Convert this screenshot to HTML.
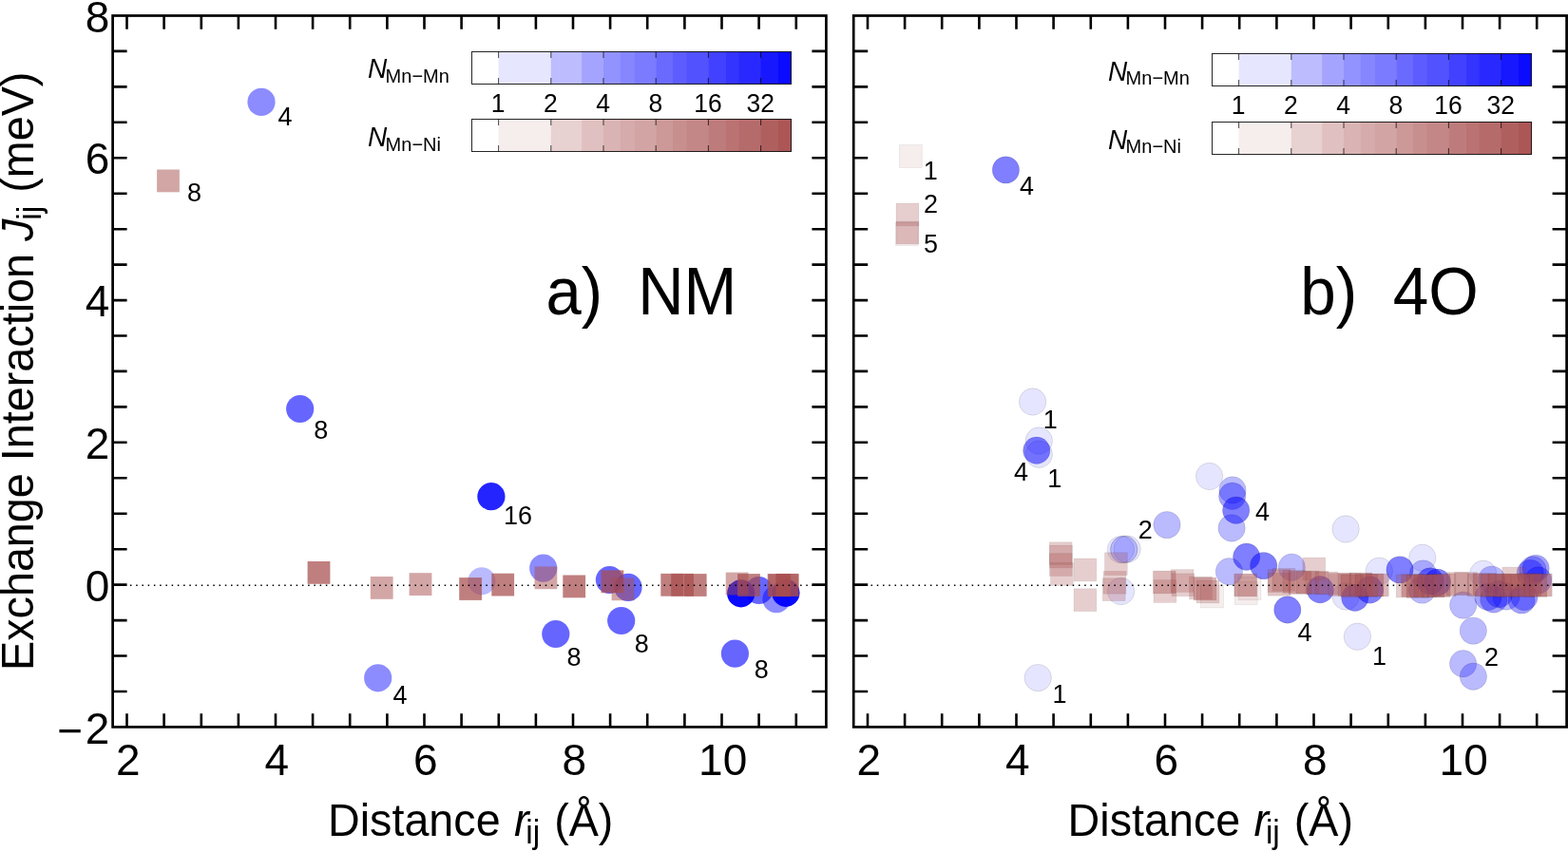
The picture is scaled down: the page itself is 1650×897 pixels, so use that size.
<!DOCTYPE html>
<html lang="en">
<head>
<meta charset="utf-8">
<title>Exchange Interaction vs Distance</title>
<style>html,body{margin:0;padding:0;background:#fff;}svg{display:block;}</style>
</head>
<body>
<svg width="1650" height="897" viewBox="0 0 1650 897" font-family='"Liberation Sans", Arial, Helvetica, sans-serif' fill="#000">
<rect width="1650" height="897" fill="#fff"/>
<g>
<circle cx="275.0" cy="107.4" r="14.6" fill="rgb(0, 0, 255)" fill-opacity="0.45"/>
<circle cx="315.7" cy="430.5" r="14.6" fill="rgb(0, 0, 255)" fill-opacity="0.60"/>
<circle cx="516.9" cy="522.7" r="14.6" fill="rgb(0, 0, 255)" fill-opacity="0.86"/>
<circle cx="397.7" cy="713.8" r="14.6" fill="rgb(0, 0, 255)" fill-opacity="0.45"/>
<circle cx="506.9" cy="611.8" r="14.6" fill="rgb(0, 0, 255)" fill-opacity="0.27"/>
<circle cx="571.7" cy="598.1" r="14.6" fill="rgb(0, 0, 255)" fill-opacity="0.45"/>
<circle cx="584.8" cy="667.5" r="14.6" fill="rgb(0, 0, 255)" fill-opacity="0.60"/>
<circle cx="641.4" cy="610.5" r="14.6" fill="rgb(0, 0, 255)" fill-opacity="0.60"/>
<circle cx="661.0" cy="618.4" r="14.6" fill="rgb(0, 0, 255)" fill-opacity="0.60"/>
<circle cx="653.7" cy="653.5" r="14.6" fill="rgb(0, 0, 255)" fill-opacity="0.60"/>
<circle cx="773.4" cy="688.1" r="14.6" fill="rgb(0, 0, 255)" fill-opacity="0.60"/>
<circle cx="779.7" cy="624.8" r="14.6" fill="rgb(0, 0, 255)" fill-opacity="0.96"/>
<circle cx="798.6" cy="621.5" r="14.6" fill="rgb(0, 0, 255)" fill-opacity="0.60"/>
<circle cx="817.0" cy="630.7" r="14.6" fill="rgb(0, 0, 255)" fill-opacity="0.45"/>
<circle cx="826.9" cy="624.3" r="14.6" fill="rgb(0, 0, 255)" fill-opacity="0.96"/>
<rect x="165.1" y="178.5" width="23.8" height="23.8" fill="rgb(168, 78, 78)" fill-opacity="0.50"/>
<rect x="323.6" y="591.0" width="23.8" height="23.8" fill="rgb(168, 78, 78)" fill-opacity="0.72"/>
<rect x="389.8" y="607.0" width="23.8" height="23.8" fill="rgb(168, 78, 78)" fill-opacity="0.50"/>
<rect x="430.6" y="603.2" width="23.8" height="23.8" fill="rgb(168, 78, 78)" fill-opacity="0.50"/>
<rect x="483.2" y="608.1" width="23.8" height="23.8" fill="rgb(168, 78, 78)" fill-opacity="0.72"/>
<rect x="517.3" y="603.7" width="23.8" height="23.8" fill="rgb(168, 78, 78)" fill-opacity="0.72"/>
<rect x="562.5" y="596.4" width="23.8" height="23.8" fill="rgb(168, 78, 78)" fill-opacity="0.50"/>
<rect x="592.3" y="605.5" width="23.8" height="23.8" fill="rgb(168, 78, 78)" fill-opacity="0.72"/>
<rect x="632.5" y="600.4" width="23.8" height="23.8" fill="rgb(168, 78, 78)" fill-opacity="0.72"/>
<rect x="643.6" y="608.4" width="23.8" height="23.8" fill="rgb(168, 78, 78)" fill-opacity="0.50"/>
<rect x="695.3" y="603.9" width="23.8" height="23.8" fill="rgb(168, 78, 78)" fill-opacity="0.72"/>
<rect x="706.2" y="603.9" width="23.8" height="23.8" fill="rgb(168, 78, 78)" fill-opacity="0.72"/>
<rect x="719.8" y="604.1" width="23.8" height="23.8" fill="rgb(168, 78, 78)" fill-opacity="0.72"/>
<rect x="763.7" y="602.6" width="23.8" height="23.8" fill="rgb(168, 78, 78)" fill-opacity="0.50"/>
<rect x="776.1" y="604.1" width="23.8" height="23.8" fill="rgb(168, 78, 78)" fill-opacity="0.72"/>
<rect x="807.7" y="604.1" width="23.8" height="23.8" fill="rgb(168, 78, 78)" fill-opacity="0.72"/>
<rect x="816.9" y="604.1" width="23.8" height="23.8" fill="rgb(168, 78, 78)" fill-opacity="0.72"/>
<rect x="808.6" y="604.4" width="23.8" height="23.8" fill="rgb(168, 78, 78)" fill-opacity="0.50"/>
<rect x="816.1" y="603.9" width="23.8" height="23.8" fill="rgb(168, 78, 78)" fill-opacity="0.50"/>
<circle cx="1058.4" cy="178.9" r="14.2" fill="rgb(0, 0, 255)" fill-opacity="0.50" stroke="#000" stroke-opacity="0.14" stroke-width="0.8"/>
<circle cx="1086.6" cy="423.0" r="14.2" fill="rgb(0, 0, 255)" fill-opacity="0.10" stroke="#000" stroke-opacity="0.14" stroke-width="0.8"/>
<circle cx="1093.3" cy="464.0" r="14.2" fill="rgb(0, 0, 255)" fill-opacity="0.10" stroke="#000" stroke-opacity="0.14" stroke-width="0.8"/>
<circle cx="1093.3" cy="478.3" r="14.2" fill="rgb(0, 0, 255)" fill-opacity="0.10" stroke="#000" stroke-opacity="0.14" stroke-width="0.8"/>
<circle cx="1090.8" cy="474.2" r="14.2" fill="rgb(0, 0, 255)" fill-opacity="0.50" stroke="#000" stroke-opacity="0.14" stroke-width="0.8"/>
<circle cx="1092.2" cy="713.6" r="14.2" fill="rgb(0, 0, 255)" fill-opacity="0.10" stroke="#000" stroke-opacity="0.14" stroke-width="0.8"/>
<circle cx="1272.6" cy="501.5" r="14.2" fill="rgb(0, 0, 255)" fill-opacity="0.10" stroke="#000" stroke-opacity="0.14" stroke-width="0.8"/>
<circle cx="1297.0" cy="516.0" r="14.2" fill="rgb(0, 0, 255)" fill-opacity="0.27" stroke="#000" stroke-opacity="0.14" stroke-width="0.8"/>
<circle cx="1296.7" cy="522.3" r="14.2" fill="rgb(0, 0, 255)" fill-opacity="0.36" stroke="#000" stroke-opacity="0.14" stroke-width="0.8"/>
<circle cx="1300.7" cy="537.3" r="14.2" fill="rgb(0, 0, 255)" fill-opacity="0.50" stroke="#000" stroke-opacity="0.14" stroke-width="0.8"/>
<circle cx="1296.1" cy="556.0" r="14.2" fill="rgb(0, 0, 255)" fill-opacity="0.27" stroke="#000" stroke-opacity="0.14" stroke-width="0.8"/>
<circle cx="1228.0" cy="552.6" r="14.2" fill="rgb(0, 0, 255)" fill-opacity="0.27" stroke="#000" stroke-opacity="0.14" stroke-width="0.8"/>
<circle cx="1179.4" cy="578.6" r="14.2" fill="rgb(0, 0, 255)" fill-opacity="0.10" stroke="#000" stroke-opacity="0.14" stroke-width="0.8"/>
<circle cx="1186.1" cy="578.1" r="14.2" fill="rgb(0, 0, 255)" fill-opacity="0.10" stroke="#000" stroke-opacity="0.14" stroke-width="0.8"/>
<circle cx="1183.0" cy="578.3" r="14.2" fill="rgb(0, 0, 255)" fill-opacity="0.10" stroke="#000" stroke-opacity="0.14" stroke-width="0.8"/>
<circle cx="1182.5" cy="578.8" r="14.2" fill="rgb(0, 0, 255)" fill-opacity="0.10" stroke="#000" stroke-opacity="0.14" stroke-width="0.8"/>
<circle cx="1179.6" cy="622.5" r="14.2" fill="rgb(0, 0, 255)" fill-opacity="0.10" stroke="#000" stroke-opacity="0.14" stroke-width="0.8"/>
<circle cx="1311.7" cy="586.3" r="14.2" fill="rgb(0, 0, 255)" fill-opacity="0.50" stroke="#000" stroke-opacity="0.14" stroke-width="0.8"/>
<circle cx="1329.7" cy="595.6" r="14.2" fill="rgb(0, 0, 255)" fill-opacity="0.50" stroke="#000" stroke-opacity="0.14" stroke-width="0.8"/>
<circle cx="1293.4" cy="601.7" r="14.2" fill="rgb(0, 0, 255)" fill-opacity="0.27" stroke="#000" stroke-opacity="0.14" stroke-width="0.8"/>
<circle cx="1359.3" cy="597.2" r="14.2" fill="rgb(0, 0, 255)" fill-opacity="0.27" stroke="#000" stroke-opacity="0.14" stroke-width="0.8"/>
<circle cx="1354.8" cy="642.0" r="14.2" fill="rgb(0, 0, 255)" fill-opacity="0.50" stroke="#000" stroke-opacity="0.14" stroke-width="0.8"/>
<circle cx="1416.1" cy="557.0" r="14.2" fill="rgb(0, 0, 255)" fill-opacity="0.10" stroke="#000" stroke-opacity="0.14" stroke-width="0.8"/>
<circle cx="1389.2" cy="620.7" r="14.2" fill="rgb(0, 0, 255)" fill-opacity="0.50" stroke="#000" stroke-opacity="0.14" stroke-width="0.8"/>
<circle cx="1416.2" cy="628.0" r="14.2" fill="rgb(0, 0, 255)" fill-opacity="0.10" stroke="#000" stroke-opacity="0.14" stroke-width="0.8"/>
<circle cx="1425.8" cy="629.3" r="14.2" fill="rgb(0, 0, 255)" fill-opacity="0.50" stroke="#000" stroke-opacity="0.14" stroke-width="0.8"/>
<circle cx="1441.5" cy="621.0" r="14.2" fill="rgb(0, 0, 255)" fill-opacity="0.50" stroke="#000" stroke-opacity="0.14" stroke-width="0.8"/>
<circle cx="1451.3" cy="601.2" r="14.2" fill="rgb(0, 0, 255)" fill-opacity="0.10" stroke="#000" stroke-opacity="0.14" stroke-width="0.8"/>
<circle cx="1473.0" cy="599.9" r="14.2" fill="rgb(0, 0, 255)" fill-opacity="0.50" stroke="#000" stroke-opacity="0.14" stroke-width="0.8"/>
<circle cx="1496.8" cy="587.3" r="14.2" fill="rgb(0, 0, 255)" fill-opacity="0.10" stroke="#000" stroke-opacity="0.14" stroke-width="0.8"/>
<circle cx="1497.5" cy="604.0" r="14.2" fill="rgb(0, 0, 255)" fill-opacity="0.27" stroke="#000" stroke-opacity="0.14" stroke-width="0.8"/>
<circle cx="1512.4" cy="613.3" r="14.2" fill="rgb(0, 0, 255)" fill-opacity="0.50" stroke="#000" stroke-opacity="0.14" stroke-width="0.8"/>
<circle cx="1505.0" cy="612.0" r="14.2" fill="rgb(0, 0, 255)" fill-opacity="0.50" stroke="#000" stroke-opacity="0.14" stroke-width="0.8"/>
<circle cx="1496.4" cy="621.1" r="14.2" fill="rgb(0, 0, 255)" fill-opacity="0.27" stroke="#000" stroke-opacity="0.14" stroke-width="0.8"/>
<circle cx="1428.4" cy="670.3" r="14.2" fill="rgb(0, 0, 255)" fill-opacity="0.10" stroke="#000" stroke-opacity="0.14" stroke-width="0.8"/>
<circle cx="1539.7" cy="637.1" r="14.2" fill="rgb(0, 0, 255)" fill-opacity="0.27" stroke="#000" stroke-opacity="0.14" stroke-width="0.8"/>
<circle cx="1550.3" cy="664.1" r="14.2" fill="rgb(0, 0, 255)" fill-opacity="0.27" stroke="#000" stroke-opacity="0.14" stroke-width="0.8"/>
<circle cx="1539.6" cy="698.7" r="14.2" fill="rgb(0, 0, 255)" fill-opacity="0.27" stroke="#000" stroke-opacity="0.14" stroke-width="0.8"/>
<circle cx="1550.4" cy="712.2" r="14.2" fill="rgb(0, 0, 255)" fill-opacity="0.27" stroke="#000" stroke-opacity="0.14" stroke-width="0.8"/>
<circle cx="1560.8" cy="604.3" r="14.2" fill="rgb(0, 0, 255)" fill-opacity="0.10" stroke="#000" stroke-opacity="0.14" stroke-width="0.8"/>
<circle cx="1569.7" cy="610.1" r="14.2" fill="rgb(0, 0, 255)" fill-opacity="0.27" stroke="#000" stroke-opacity="0.14" stroke-width="0.8"/>
<circle cx="1566.0" cy="628.5" r="14.2" fill="rgb(0, 0, 255)" fill-opacity="0.36" stroke="#000" stroke-opacity="0.14" stroke-width="0.8"/>
<circle cx="1571.8" cy="631.0" r="14.2" fill="rgb(0, 0, 255)" fill-opacity="0.36" stroke="#000" stroke-opacity="0.14" stroke-width="0.8"/>
<circle cx="1577.5" cy="625.5" r="14.2" fill="rgb(0, 0, 255)" fill-opacity="0.36" stroke="#000" stroke-opacity="0.14" stroke-width="0.8"/>
<circle cx="1585.0" cy="628.0" r="14.2" fill="rgb(0, 0, 255)" fill-opacity="0.27" stroke="#000" stroke-opacity="0.14" stroke-width="0.8"/>
<circle cx="1601.1" cy="631.9" r="14.2" fill="rgb(0, 0, 255)" fill-opacity="0.36" stroke="#000" stroke-opacity="0.14" stroke-width="0.8"/>
<circle cx="1604.0" cy="628.5" r="14.2" fill="rgb(0, 0, 255)" fill-opacity="0.36" stroke="#000" stroke-opacity="0.14" stroke-width="0.8"/>
<circle cx="1616.1" cy="598.4" r="14.2" fill="rgb(0, 0, 255)" fill-opacity="0.36" stroke="#000" stroke-opacity="0.14" stroke-width="0.8"/>
<circle cx="1610.3" cy="603.4" r="14.2" fill="rgb(0, 0, 255)" fill-opacity="0.36" stroke="#000" stroke-opacity="0.14" stroke-width="0.8"/>
<circle cx="1618.6" cy="611.0" r="14.2" fill="rgb(0, 0, 255)" fill-opacity="0.36" stroke="#000" stroke-opacity="0.14" stroke-width="0.8"/>
<circle cx="1613.0" cy="600.0" r="14.2" fill="rgb(0, 0, 255)" fill-opacity="0.27" stroke="#000" stroke-opacity="0.14" stroke-width="0.8"/>
<rect x="946.5" y="152.6" width="23.8" height="23.8" fill="rgb(168, 78, 78)" fill-opacity="0.10" stroke="#000" stroke-opacity="0.08" stroke-width="0.8"/>
<rect x="943.0" y="214.0" width="23.8" height="23.8" fill="rgb(168, 78, 78)" fill-opacity="0.28" stroke="#000" stroke-opacity="0.08" stroke-width="0.8"/>
<rect x="943.0" y="233.1" width="23.8" height="23.8" fill="rgb(168, 78, 78)" fill-opacity="0.33" stroke="#000" stroke-opacity="0.08" stroke-width="0.8"/>
<rect x="942.3" y="234.6" width="23.8" height="23.8" fill="rgb(168, 78, 78)" fill-opacity="0.10" stroke="#000" stroke-opacity="0.08" stroke-width="0.8"/>
<rect x="1104.3" y="570.8" width="23.8" height="23.8" fill="rgb(168, 78, 78)" fill-opacity="0.28" stroke="#000" stroke-opacity="0.08" stroke-width="0.8"/>
<rect x="1104.6" y="574.1" width="23.8" height="23.8" fill="rgb(168, 78, 78)" fill-opacity="0.28" stroke="#000" stroke-opacity="0.08" stroke-width="0.8"/>
<rect x="1104.3" y="582.7" width="23.8" height="23.8" fill="rgb(168, 78, 78)" fill-opacity="0.28" stroke="#000" stroke-opacity="0.08" stroke-width="0.8"/>
<rect x="1105.5" y="592.6" width="23.8" height="23.8" fill="rgb(168, 78, 78)" fill-opacity="0.28" stroke="#000" stroke-opacity="0.08" stroke-width="0.8"/>
<rect x="1130.0" y="588.0" width="23.8" height="23.8" fill="rgb(168, 78, 78)" fill-opacity="0.28" stroke="#000" stroke-opacity="0.08" stroke-width="0.8"/>
<rect x="1130.0" y="619.8" width="23.8" height="23.8" fill="rgb(168, 78, 78)" fill-opacity="0.28" stroke="#000" stroke-opacity="0.08" stroke-width="0.8"/>
<rect x="1162.5" y="581.8" width="23.8" height="23.8" fill="rgb(168, 78, 78)" fill-opacity="0.28" stroke="#000" stroke-opacity="0.08" stroke-width="0.8"/>
<rect x="1161.1" y="601.4" width="23.8" height="23.8" fill="rgb(168, 78, 78)" fill-opacity="0.28" stroke="#000" stroke-opacity="0.08" stroke-width="0.8"/>
<rect x="1160.3" y="608.8" width="23.8" height="23.8" fill="rgb(168, 78, 78)" fill-opacity="0.28" stroke="#000" stroke-opacity="0.08" stroke-width="0.8"/>
<rect x="1214.0" y="610.6" width="23.8" height="23.8" fill="rgb(168, 78, 78)" fill-opacity="0.28" stroke="#000" stroke-opacity="0.08" stroke-width="0.8"/>
<rect x="1213.4" y="601.1" width="23.8" height="23.8" fill="rgb(168, 78, 78)" fill-opacity="0.40" stroke="#000" stroke-opacity="0.08" stroke-width="0.8"/>
<rect x="1232.2" y="599.6" width="23.8" height="23.8" fill="rgb(168, 78, 78)" fill-opacity="0.28" stroke="#000" stroke-opacity="0.08" stroke-width="0.8"/>
<rect x="1233.0" y="603.9" width="23.8" height="23.8" fill="rgb(168, 78, 78)" fill-opacity="0.28" stroke="#000" stroke-opacity="0.08" stroke-width="0.8"/>
<rect x="1251.6" y="607.1" width="23.8" height="23.8" fill="rgb(168, 78, 78)" fill-opacity="0.28" stroke="#000" stroke-opacity="0.08" stroke-width="0.8"/>
<rect x="1256.1" y="608.1" width="23.8" height="23.8" fill="rgb(168, 78, 78)" fill-opacity="0.40" stroke="#000" stroke-opacity="0.08" stroke-width="0.8"/>
<rect x="1259.1" y="611.1" width="23.8" height="23.8" fill="rgb(168, 78, 78)" fill-opacity="0.28" stroke="#000" stroke-opacity="0.08" stroke-width="0.8"/>
<rect x="1263.6" y="616.1" width="23.8" height="23.8" fill="rgb(168, 78, 78)" fill-opacity="0.10" stroke="#000" stroke-opacity="0.08" stroke-width="0.8"/>
<rect x="1298.8" y="604.1" width="23.8" height="23.8" fill="rgb(168, 78, 78)" fill-opacity="0.50" stroke="#000" stroke-opacity="0.08" stroke-width="0.8"/>
<rect x="1299.4" y="612.7" width="23.8" height="23.8" fill="rgb(168, 78, 78)" fill-opacity="0.10" stroke="#000" stroke-opacity="0.08" stroke-width="0.8"/>
<rect x="1303.1" y="607.8" width="23.8" height="23.8" fill="rgb(168, 78, 78)" fill-opacity="0.10" stroke="#000" stroke-opacity="0.08" stroke-width="0.8"/>
<rect x="1334.2" y="599.7" width="23.8" height="23.8" fill="rgb(168, 78, 78)" fill-opacity="0.33" stroke="#000" stroke-opacity="0.08" stroke-width="0.8"/>
<rect x="1334.2" y="603.4" width="23.8" height="23.8" fill="rgb(168, 78, 78)" fill-opacity="0.33" stroke="#000" stroke-opacity="0.08" stroke-width="0.8"/>
<rect x="1339.1" y="598.4" width="23.8" height="23.8" fill="rgb(168, 78, 78)" fill-opacity="0.28" stroke="#000" stroke-opacity="0.08" stroke-width="0.8"/>
<rect x="1370.9" y="587.1" width="23.8" height="23.8" fill="rgb(168, 78, 78)" fill-opacity="0.28" stroke="#000" stroke-opacity="0.08" stroke-width="0.8"/>
<rect x="1350.1" y="600.6" width="23.8" height="23.8" fill="rgb(168, 78, 78)" fill-opacity="0.28" stroke="#000" stroke-opacity="0.08" stroke-width="0.8"/>
<rect x="1356.1" y="601.6" width="23.8" height="23.8" fill="rgb(168, 78, 78)" fill-opacity="0.40" stroke="#000" stroke-opacity="0.08" stroke-width="0.8"/>
<rect x="1364.1" y="601.1" width="23.8" height="23.8" fill="rgb(168, 78, 78)" fill-opacity="0.28" stroke="#000" stroke-opacity="0.08" stroke-width="0.8"/>
<rect x="1374.1" y="601.6" width="23.8" height="23.8" fill="rgb(168, 78, 78)" fill-opacity="0.40" stroke="#000" stroke-opacity="0.08" stroke-width="0.8"/>
<rect x="1384.1" y="602.1" width="23.8" height="23.8" fill="rgb(168, 78, 78)" fill-opacity="0.28" stroke="#000" stroke-opacity="0.08" stroke-width="0.8"/>
<rect x="1398.1" y="603.6" width="23.8" height="23.8" fill="rgb(168, 78, 78)" fill-opacity="0.40" stroke="#000" stroke-opacity="0.08" stroke-width="0.8"/>
<rect x="1408.1" y="603.6" width="23.8" height="23.8" fill="rgb(168, 78, 78)" fill-opacity="0.46" stroke="#000" stroke-opacity="0.08" stroke-width="0.8"/>
<rect x="1411.1" y="605.1" width="23.8" height="23.8" fill="rgb(168, 78, 78)" fill-opacity="0.40" stroke="#000" stroke-opacity="0.08" stroke-width="0.8"/>
<rect x="1420.1" y="603.1" width="23.8" height="23.8" fill="rgb(168, 78, 78)" fill-opacity="0.46" stroke="#000" stroke-opacity="0.08" stroke-width="0.8"/>
<rect x="1426.1" y="604.6" width="23.8" height="23.8" fill="rgb(168, 78, 78)" fill-opacity="0.40" stroke="#000" stroke-opacity="0.08" stroke-width="0.8"/>
<rect x="1432.1" y="604.1" width="23.8" height="23.8" fill="rgb(168, 78, 78)" fill-opacity="0.46" stroke="#000" stroke-opacity="0.08" stroke-width="0.8"/>
<rect x="1437.5" y="604.1" width="23.8" height="23.8" fill="rgb(168, 78, 78)" fill-opacity="0.40" stroke="#000" stroke-opacity="0.08" stroke-width="0.8"/>
<rect x="1469.2" y="605.1" width="23.8" height="23.8" fill="rgb(168, 78, 78)" fill-opacity="0.28" stroke="#000" stroke-opacity="0.08" stroke-width="0.8"/>
<rect x="1474.8" y="604.6" width="23.8" height="23.8" fill="rgb(168, 78, 78)" fill-opacity="0.46" stroke="#000" stroke-opacity="0.08" stroke-width="0.8"/>
<rect x="1480.1" y="605.6" width="23.8" height="23.8" fill="rgb(168, 78, 78)" fill-opacity="0.46" stroke="#000" stroke-opacity="0.08" stroke-width="0.8"/>
<rect x="1488.1" y="604.6" width="23.8" height="23.8" fill="rgb(168, 78, 78)" fill-opacity="0.46" stroke="#000" stroke-opacity="0.08" stroke-width="0.8"/>
<rect x="1496.1" y="605.1" width="23.8" height="23.8" fill="rgb(168, 78, 78)" fill-opacity="0.46" stroke="#000" stroke-opacity="0.08" stroke-width="0.8"/>
<rect x="1502.3" y="604.6" width="23.8" height="23.8" fill="rgb(168, 78, 78)" fill-opacity="0.46" stroke="#000" stroke-opacity="0.08" stroke-width="0.8"/>
<rect x="1508.1" y="604.1" width="23.8" height="23.8" fill="rgb(168, 78, 78)" fill-opacity="0.28" stroke="#000" stroke-opacity="0.08" stroke-width="0.8"/>
<rect x="1522.1" y="602.6" width="23.8" height="23.8" fill="rgb(168, 78, 78)" fill-opacity="0.33" stroke="#000" stroke-opacity="0.08" stroke-width="0.8"/>
<rect x="1530.6" y="602.6" width="23.8" height="23.8" fill="rgb(168, 78, 78)" fill-opacity="0.33" stroke="#000" stroke-opacity="0.08" stroke-width="0.8"/>
<rect x="1544.1" y="604.1" width="23.8" height="23.8" fill="rgb(168, 78, 78)" fill-opacity="0.33" stroke="#000" stroke-opacity="0.08" stroke-width="0.8"/>
<rect x="1550.1" y="603.6" width="23.8" height="23.8" fill="rgb(168, 78, 78)" fill-opacity="0.46" stroke="#000" stroke-opacity="0.08" stroke-width="0.8"/>
<rect x="1558.1" y="604.6" width="23.8" height="23.8" fill="rgb(168, 78, 78)" fill-opacity="0.46" stroke="#000" stroke-opacity="0.08" stroke-width="0.8"/>
<rect x="1566.1" y="604.1" width="23.8" height="23.8" fill="rgb(168, 78, 78)" fill-opacity="0.46" stroke="#000" stroke-opacity="0.08" stroke-width="0.8"/>
<rect x="1574.1" y="604.6" width="23.8" height="23.8" fill="rgb(168, 78, 78)" fill-opacity="0.46" stroke="#000" stroke-opacity="0.08" stroke-width="0.8"/>
<rect x="1580.8" y="597.1" width="23.8" height="23.8" fill="rgb(168, 78, 78)" fill-opacity="0.28" stroke="#000" stroke-opacity="0.08" stroke-width="0.8"/>
<rect x="1582.1" y="604.1" width="23.8" height="23.8" fill="rgb(168, 78, 78)" fill-opacity="0.46" stroke="#000" stroke-opacity="0.08" stroke-width="0.8"/>
<rect x="1590.1" y="604.6" width="23.8" height="23.8" fill="rgb(168, 78, 78)" fill-opacity="0.46" stroke="#000" stroke-opacity="0.08" stroke-width="0.8"/>
<rect x="1598.1" y="603.6" width="23.8" height="23.8" fill="rgb(168, 78, 78)" fill-opacity="0.46" stroke="#000" stroke-opacity="0.08" stroke-width="0.8"/>
<rect x="1604.1" y="604.6" width="23.8" height="23.8" fill="rgb(168, 78, 78)" fill-opacity="0.46" stroke="#000" stroke-opacity="0.08" stroke-width="0.8"/>
<rect x="1609.4" y="604.1" width="23.8" height="23.8" fill="rgb(168, 78, 78)" fill-opacity="0.46" stroke="#000" stroke-opacity="0.08" stroke-width="0.8"/>
<line x1="136.95" y1="616.2" x2="855.4" y2="616.2" stroke="#000" stroke-width="1.5" stroke-dasharray="1.5 4.74"/>
<line x1="916.55" y1="616.2" x2="1634.6" y2="616.2" stroke="#000" stroke-width="1.5" stroke-dasharray="1.5 4.74"/>
<text transform="translate(292.4,132.3) scale(1,1.04)" font-size="27">4</text>
<text transform="translate(197.0,212.3) scale(1,1.04)" font-size="27">8</text>
<text transform="translate(330.3,462.2) scale(1,1.04)" font-size="27">8</text>
<text transform="translate(530.0,552.4) scale(1,1.04)" font-size="27">16</text>
<text transform="translate(413.5,741.0) scale(1,1.04)" font-size="27">4</text>
<text transform="translate(596.6,701.1) scale(1,1.04)" font-size="27">8</text>
<text transform="translate(667.8,686.8) scale(1,1.04)" font-size="27">8</text>
<text transform="translate(793.8,714.4) scale(1,1.04)" font-size="27">8</text>
<text transform="translate(971.8,188.5) scale(1,1.04)" font-size="27">1</text>
<text transform="translate(972.0,224.2) scale(1,1.04)" font-size="27">2</text>
<text transform="translate(972.0,265.7) scale(1,1.04)" font-size="27">5</text>
<text transform="translate(1072.9,205.0) scale(1,1.04)" font-size="27">4</text>
<text transform="translate(1097.8,451.1) scale(1,1.04)" font-size="27">1</text>
<text transform="translate(1066.9,506.2) scale(1,1.04)" font-size="27">4</text>
<text transform="translate(1102.3,513.0) scale(1,1.04)" font-size="27">1</text>
<text transform="translate(1107.5,740.2) scale(1,1.04)" font-size="27">1</text>
<text transform="translate(1197.8,567.4) scale(1,1.04)" font-size="27">2</text>
<text transform="translate(1321.1,548.4) scale(1,1.04)" font-size="27">4</text>
<text transform="translate(1365.5,674.5) scale(1,1.04)" font-size="27">4</text>
<text transform="translate(1443.9,699.5) scale(1,1.04)" font-size="27">1</text>
<text transform="translate(1562.1,700.5) scale(1,1.04)" font-size="27">2</text>
</g>
<rect x="496.5" y="54.5" width="336" height="34" fill="#fff"/>
<rect x="524.6" y="54.5" width="55.7" height="34" fill="rgb(230,230,255)"/>
<rect x="579.8" y="54.5" width="32.8" height="34" fill="rgb(188,188,255)"/>
<rect x="612.1" y="54.5" width="23.4" height="34" fill="rgb(164,164,255)"/>
<rect x="635.0" y="54.5" width="18.3" height="34" fill="rgb(147,147,255)"/>
<rect x="652.8" y="54.5" width="15.0" height="34" fill="rgb(134,134,255)"/>
<rect x="667.3" y="54.5" width="23.4" height="34" fill="rgb(123,123,255)"/>
<rect x="690.2" y="54.5" width="18.3" height="34" fill="rgb(106,106,255)"/>
<rect x="708.0" y="54.5" width="15.0" height="34" fill="rgb(93,93,255)"/>
<rect x="722.5" y="54.5" width="23.4" height="34" fill="rgb(82,82,255)"/>
<rect x="745.4" y="54.5" width="18.3" height="34" fill="rgb(65,65,255)"/>
<rect x="763.2" y="54.5" width="15.0" height="34" fill="rgb(52,52,255)"/>
<rect x="777.7" y="54.5" width="23.4" height="34" fill="rgb(41,41,255)"/>
<rect x="800.6" y="54.5" width="18.3" height="34" fill="rgb(24,24,255)"/>
<rect x="818.4" y="54.5" width="14.1" height="34" fill="rgb(11,11,255)"/>
<path d="M524.6 54.5v6.5M524.6 88.5v-6.5M579.8 54.5v6.5M579.8 88.5v-6.5M635.0 54.5v6.5M635.0 88.5v-6.5M690.2 54.5v6.5M690.2 88.5v-6.5M745.4 54.5v6.5M745.4 88.5v-6.5M800.6 54.5v6.5M800.6 88.5v-6.5" stroke="#000" stroke-opacity="0.8" stroke-width="0.9" fill="none"/>
<rect x="496.5" y="54.5" width="336" height="34" fill="none" stroke="#000" stroke-opacity="0.85" stroke-width="1"/>
<rect x="496.5" y="125.5" width="336" height="34" fill="#fff"/>
<rect x="524.6" y="125.5" width="55.7" height="34" fill="rgb(246,237,237)"/>
<rect x="579.8" y="125.5" width="32.8" height="34" fill="rgb(232,209,209)"/>
<rect x="612.1" y="125.5" width="23.4" height="34" fill="rgb(224,192,192)"/>
<rect x="635.0" y="125.5" width="18.3" height="34" fill="rgb(218,180,180)"/>
<rect x="652.8" y="125.5" width="15.0" height="34" fill="rgb(214,171,171)"/>
<rect x="667.3" y="125.5" width="23.4" height="34" fill="rgb(210,164,164)"/>
<rect x="690.2" y="125.5" width="18.3" height="34" fill="rgb(204,152,152)"/>
<rect x="708.0" y="125.5" width="15.0" height="34" fill="rgb(200,143,143)"/>
<rect x="722.5" y="125.5" width="23.4" height="34" fill="rgb(196,135,135)"/>
<rect x="745.4" y="125.5" width="18.3" height="34" fill="rgb(190,123,123)"/>
<rect x="763.2" y="125.5" width="15.0" height="34" fill="rgb(186,114,114)"/>
<rect x="777.7" y="125.5" width="23.4" height="34" fill="rgb(182,107,107)"/>
<rect x="800.6" y="125.5" width="18.3" height="34" fill="rgb(176,95,95)"/>
<rect x="818.4" y="125.5" width="14.1" height="34" fill="rgb(172,86,86)"/>
<path d="M524.6 125.5v6.5M524.6 159.5v-6.5M579.8 125.5v6.5M579.8 159.5v-6.5M635.0 125.5v6.5M635.0 159.5v-6.5M690.2 125.5v6.5M690.2 159.5v-6.5M745.4 125.5v6.5M745.4 159.5v-6.5M800.6 125.5v6.5M800.6 159.5v-6.5" stroke="#000" stroke-opacity="0.8" stroke-width="0.9" fill="none"/>
<rect x="496.5" y="125.5" width="336" height="34" fill="none" stroke="#000" stroke-opacity="0.85" stroke-width="1"/>
<text transform="translate(524.2,117.9) scale(1,1.04)" font-size="26.5" text-anchor="middle">1</text>
<text transform="translate(579.4,117.9) scale(1,1.04)" font-size="26.5" text-anchor="middle">2</text>
<text transform="translate(634.6,117.9) scale(1,1.04)" font-size="26.5" text-anchor="middle">4</text>
<text transform="translate(689.8,117.9) scale(1,1.04)" font-size="26.5" text-anchor="middle">8</text>
<text transform="translate(745.0,117.9) scale(1,1.04)" font-size="26.5" text-anchor="middle">16</text>
<text transform="translate(800.2,117.9) scale(1,1.04)" font-size="26.5" text-anchor="middle">32</text>
<text transform="translate(387.1,82.0) scale(1,1.04)" font-size="28"><tspan font-style="italic">N</tspan><tspan font-size="20" dy="4.6" dx="-1.7">Mn−Mn</tspan></text>
<text transform="translate(387.1,154.0) scale(1,1.04)" font-size="28"><tspan font-style="italic">N</tspan><tspan font-size="20" dy="4.6" dx="-1.7">Mn−Ni</tspan></text>
<rect x="1275.5" y="56.5" width="336" height="34" fill="#fff"/>
<rect x="1303.6" y="56.5" width="55.7" height="34" fill="rgb(230,230,255)"/>
<rect x="1358.8" y="56.5" width="32.8" height="34" fill="rgb(188,188,255)"/>
<rect x="1391.1" y="56.5" width="23.4" height="34" fill="rgb(164,164,255)"/>
<rect x="1414.0" y="56.5" width="18.3" height="34" fill="rgb(147,147,255)"/>
<rect x="1431.8" y="56.5" width="15.0" height="34" fill="rgb(134,134,255)"/>
<rect x="1446.3" y="56.5" width="23.4" height="34" fill="rgb(123,123,255)"/>
<rect x="1469.2" y="56.5" width="18.3" height="34" fill="rgb(106,106,255)"/>
<rect x="1487.0" y="56.5" width="15.0" height="34" fill="rgb(93,93,255)"/>
<rect x="1501.5" y="56.5" width="23.4" height="34" fill="rgb(82,82,255)"/>
<rect x="1524.4" y="56.5" width="18.3" height="34" fill="rgb(65,65,255)"/>
<rect x="1542.2" y="56.5" width="15.0" height="34" fill="rgb(52,52,255)"/>
<rect x="1556.7" y="56.5" width="23.4" height="34" fill="rgb(41,41,255)"/>
<rect x="1579.6" y="56.5" width="18.3" height="34" fill="rgb(24,24,255)"/>
<rect x="1597.4" y="56.5" width="14.1" height="34" fill="rgb(11,11,255)"/>
<path d="M1303.6 56.5v6.5M1303.6 90.5v-6.5M1358.8 56.5v6.5M1358.8 90.5v-6.5M1414.0 56.5v6.5M1414.0 90.5v-6.5M1469.2 56.5v6.5M1469.2 90.5v-6.5M1524.4 56.5v6.5M1524.4 90.5v-6.5M1579.6 56.5v6.5M1579.6 90.5v-6.5" stroke="#000" stroke-opacity="0.8" stroke-width="0.9" fill="none"/>
<rect x="1275.5" y="56.5" width="336" height="34" fill="none" stroke="#000" stroke-opacity="0.85" stroke-width="1"/>
<rect x="1275.5" y="128.5" width="336" height="34" fill="#fff"/>
<rect x="1303.6" y="128.5" width="55.7" height="34" fill="rgb(246,237,237)"/>
<rect x="1358.8" y="128.5" width="32.8" height="34" fill="rgb(232,209,209)"/>
<rect x="1391.1" y="128.5" width="23.4" height="34" fill="rgb(224,192,192)"/>
<rect x="1414.0" y="128.5" width="18.3" height="34" fill="rgb(218,180,180)"/>
<rect x="1431.8" y="128.5" width="15.0" height="34" fill="rgb(214,171,171)"/>
<rect x="1446.3" y="128.5" width="23.4" height="34" fill="rgb(210,164,164)"/>
<rect x="1469.2" y="128.5" width="18.3" height="34" fill="rgb(204,152,152)"/>
<rect x="1487.0" y="128.5" width="15.0" height="34" fill="rgb(200,143,143)"/>
<rect x="1501.5" y="128.5" width="23.4" height="34" fill="rgb(196,135,135)"/>
<rect x="1524.4" y="128.5" width="18.3" height="34" fill="rgb(190,123,123)"/>
<rect x="1542.2" y="128.5" width="15.0" height="34" fill="rgb(186,114,114)"/>
<rect x="1556.7" y="128.5" width="23.4" height="34" fill="rgb(182,107,107)"/>
<rect x="1579.6" y="128.5" width="18.3" height="34" fill="rgb(176,95,95)"/>
<rect x="1597.4" y="128.5" width="14.1" height="34" fill="rgb(172,86,86)"/>
<path d="M1303.6 128.5v6.5M1303.6 162.5v-6.5M1358.8 128.5v6.5M1358.8 162.5v-6.5M1414.0 128.5v6.5M1414.0 162.5v-6.5M1469.2 128.5v6.5M1469.2 162.5v-6.5M1524.4 128.5v6.5M1524.4 162.5v-6.5M1579.6 128.5v6.5M1579.6 162.5v-6.5" stroke="#000" stroke-opacity="0.8" stroke-width="0.9" fill="none"/>
<rect x="1275.5" y="128.5" width="336" height="34" fill="none" stroke="#000" stroke-opacity="0.85" stroke-width="1"/>
<text transform="translate(1303.2,120.4) scale(1,1.04)" font-size="26.5" text-anchor="middle">1</text>
<text transform="translate(1358.4,120.4) scale(1,1.04)" font-size="26.5" text-anchor="middle">2</text>
<text transform="translate(1413.6,120.4) scale(1,1.04)" font-size="26.5" text-anchor="middle">4</text>
<text transform="translate(1468.8,120.4) scale(1,1.04)" font-size="26.5" text-anchor="middle">8</text>
<text transform="translate(1524.0,120.4) scale(1,1.04)" font-size="26.5" text-anchor="middle">16</text>
<text transform="translate(1579.2,120.4) scale(1,1.04)" font-size="26.5" text-anchor="middle">32</text>
<text transform="translate(1166.1,84.5) scale(1,1.04)" font-size="28"><tspan font-style="italic">N</tspan><tspan font-size="20" dy="4.6" dx="-1.7">Mn−Mn</tspan></text>
<text transform="translate(1166.1,156.5) scale(1,1.04)" font-size="28"><tspan font-style="italic">N</tspan><tspan font-size="20" dy="4.6" dx="-1.7">Mn−Ni</tspan></text>
<path d="M133.5 16.5v14.2M133.5 765.4v-14.2M172.6 16.5v14.2M172.6 765.4v-14.2M211.8 16.5v14.2M211.8 765.4v-14.2M250.9 16.5v14.2M250.9 765.4v-14.2M290.0 16.5v14.2M290.0 765.4v-14.2M329.1 16.5v14.2M329.1 765.4v-14.2M368.2 16.5v14.2M368.2 765.4v-14.2M407.4 16.5v14.2M407.4 765.4v-14.2M446.5 16.5v14.2M446.5 765.4v-14.2M485.6 16.5v14.2M485.6 765.4v-14.2M524.8 16.5v14.2M524.8 765.4v-14.2M563.9 16.5v14.2M563.9 765.4v-14.2M603.0 16.5v14.2M603.0 765.4v-14.2M642.1 16.5v14.2M642.1 765.4v-14.2M681.2 16.5v14.2M681.2 765.4v-14.2M720.4 16.5v14.2M720.4 765.4v-14.2M759.5 16.5v14.2M759.5 765.4v-14.2M798.6 16.5v14.2M798.6 765.4v-14.2M837.8 16.5v14.2M837.8 765.4v-14.2M118.6 53.9h15M869.4 53.9h-15M118.6 91.4h15M869.4 91.4h-15M118.6 128.8h15M869.4 128.8h-15M118.6 166.3h15M869.4 166.3h-15M118.6 203.7h15M869.4 203.7h-15M118.6 241.2h15M869.4 241.2h-15M118.6 278.6h15M869.4 278.6h-15M118.6 316.1h15M869.4 316.1h-15M118.6 353.5h15M869.4 353.5h-15M118.6 390.9h15M869.4 390.9h-15M118.6 428.4h15M869.4 428.4h-15M118.6 465.8h15M869.4 465.8h-15M118.6 503.3h15M869.4 503.3h-15M118.6 540.7h15M869.4 540.7h-15M118.6 578.2h15M869.4 578.2h-15M118.6 615.6h15M869.4 615.6h-15M118.6 653.1h15M869.4 653.1h-15M118.6 690.5h15M869.4 690.5h-15M118.6 728.0h15M869.4 728.0h-15" stroke="#000" stroke-width="2.6" fill="none"/>
<rect x="118.6" y="16.5" width="750.8" height="748.9" fill="none" stroke="#000" stroke-width="2.7"/>
<path d="M913.0 16.5v14.2M913.0 765.4v-14.2M952.1 16.5v14.2M952.1 765.4v-14.2M991.2 16.5v14.2M991.2 765.4v-14.2M1030.4 16.5v14.2M1030.4 765.4v-14.2M1069.5 16.5v14.2M1069.5 765.4v-14.2M1108.6 16.5v14.2M1108.6 765.4v-14.2M1147.8 16.5v14.2M1147.8 765.4v-14.2M1186.9 16.5v14.2M1186.9 765.4v-14.2M1226.0 16.5v14.2M1226.0 765.4v-14.2M1265.1 16.5v14.2M1265.1 765.4v-14.2M1304.2 16.5v14.2M1304.2 765.4v-14.2M1343.4 16.5v14.2M1343.4 765.4v-14.2M1382.5 16.5v14.2M1382.5 765.4v-14.2M1421.6 16.5v14.2M1421.6 765.4v-14.2M1460.8 16.5v14.2M1460.8 765.4v-14.2M1499.9 16.5v14.2M1499.9 765.4v-14.2M1539.0 16.5v14.2M1539.0 765.4v-14.2M1578.1 16.5v14.2M1578.1 765.4v-14.2M1617.2 16.5v14.2M1617.2 765.4v-14.2M898.2 53.9h15M1648.6 53.9h-15M898.2 91.4h15M1648.6 91.4h-15M898.2 128.8h15M1648.6 128.8h-15M898.2 166.3h15M1648.6 166.3h-15M898.2 203.7h15M1648.6 203.7h-15M898.2 241.2h15M1648.6 241.2h-15M898.2 278.6h15M1648.6 278.6h-15M898.2 316.1h15M1648.6 316.1h-15M898.2 353.5h15M1648.6 353.5h-15M898.2 390.9h15M1648.6 390.9h-15M898.2 428.4h15M1648.6 428.4h-15M898.2 465.8h15M1648.6 465.8h-15M898.2 503.3h15M1648.6 503.3h-15M898.2 540.7h15M1648.6 540.7h-15M898.2 578.2h15M1648.6 578.2h-15M898.2 615.6h15M1648.6 615.6h-15M898.2 653.1h15M1648.6 653.1h-15M898.2 690.5h15M1648.6 690.5h-15M898.2 728.0h15M1648.6 728.0h-15" stroke="#000" stroke-width="2.6" fill="none"/>
<rect x="898.2" y="16.5" width="750.4" height="748.9" fill="none" stroke="#000" stroke-width="2.7"/>
<text transform="translate(134.7,815.5) scale(1,1.005)" font-size="46" text-anchor="middle">2</text>
<text transform="translate(291.2,815.5) scale(1,1.005)" font-size="46" text-anchor="middle">4</text>
<text transform="translate(447.7,815.5) scale(1,1.005)" font-size="46" text-anchor="middle">6</text>
<text transform="translate(604.2,815.5) scale(1,1.005)" font-size="46" text-anchor="middle">8</text>
<text transform="translate(760.7,815.5) scale(1,1.005)" font-size="46" text-anchor="middle">10</text>
<text transform="translate(914.2,815.5) scale(1,1.005)" font-size="46" text-anchor="middle">2</text>
<text transform="translate(1070.7,815.5) scale(1,1.005)" font-size="46" text-anchor="middle">4</text>
<text transform="translate(1227.2,815.5) scale(1,1.005)" font-size="46" text-anchor="middle">6</text>
<text transform="translate(1383.7,815.5) scale(1,1.005)" font-size="46" text-anchor="middle">8</text>
<text transform="translate(1540.2,815.5) scale(1,1.005)" font-size="46" text-anchor="middle">10</text>
<text transform="translate(115.4,33.6) scale(1,1.005)" font-size="46" text-anchor="end">8</text>
<text transform="translate(115.4,183.4) scale(1,1.005)" font-size="46" text-anchor="end">6</text>
<text transform="translate(115.4,333.2) scale(1,1.005)" font-size="46" text-anchor="end">4</text>
<text transform="translate(115.4,482.9) scale(1,1.005)" font-size="46" text-anchor="end">2</text>
<text transform="translate(115.4,632.7) scale(1,1.005)" font-size="46" text-anchor="end">0</text>
<text transform="translate(115.4,782.5) scale(1,1.005)" font-size="46" text-anchor="end"><tspan dy="2.8">−</tspan><tspan dy="-2.8" dx="3">2</tspan></text>
<text transform="translate(345.0,880.0) scale(1.015,1.04)" font-size="46">Distance <tspan font-style="italic" dx="1.4">r</tspan><tspan font-size="33" dy="8.1" dx="-3.2">ij</tspan><tspan dy="-8.1" dx="2"> (Å)</tspan></text>
<text transform="translate(1123.6,880.0) scale(1.015,1.04)" font-size="46">Distance <tspan font-style="italic" dx="1.4">r</tspan><tspan font-size="33" dy="8.1" dx="-3.2">ij</tspan><tspan dy="-8.1" dx="2"> (Å)</tspan></text>
<text transform="translate(34.8,706) rotate(-90) scale(1.016,1.04)" font-size="46">Exchange Interaction <tspan font-style="italic">J</tspan><tspan font-size="33" dy="8.1" dx="-1">ij</tspan><tspan dy="-8.1" dx="1"> (meV)</tspan></text>
<text transform="translate(574.5,330.6) scale(0.985,1.04)" font-size="68" xml:space="preserve">a)  NM</text>
<text transform="translate(1368.2,330.6) scale(0.992,1.04)" font-size="68" xml:space="preserve">b)  4O</text>
</svg>
</body>
</html>
